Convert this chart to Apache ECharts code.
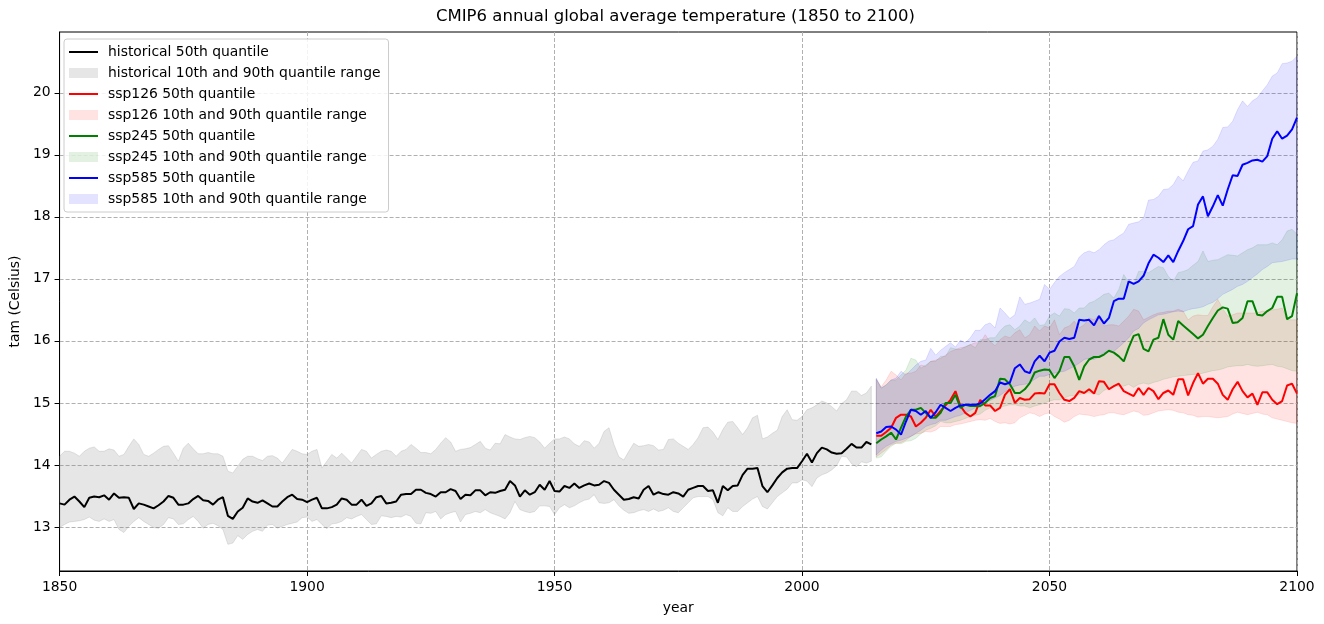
<!DOCTYPE html>
<html><head><meta charset="utf-8">
<script src="https://cdn.jsdelivr.net/npm/echarts@6/dist/echarts.min.js"></script>
<style>html,body{margin:0;padding:0;background:#fff}#chart{width:1324px;height:624px}</style>
</head><body><div id="chart"></div>
<script>
const histStart = 1850;
const futStart = 2015;
const xTicks = [1850, 1900, 1950, 2000, 2050, 2100];
const yTicks = [13, 14, 15, 16, 17, 18, 19, 20];

const histMedian = [
13.38,13.36,13.44,13.49,13.41,13.32,13.47,13.49,13.48,13.51,
13.44,13.54,13.47,13.48,13.47,13.29,13.38,13.36,13.33,13.30,
13.35,13.41,13.50,13.47,13.36,13.36,13.38,13.45,13.50,13.43,
13.42,13.36,13.44,13.48,13.18,13.13,13.25,13.31,13.46,13.41,
13.39,13.43,13.38,13.33,13.33,13.41,13.48,13.52,13.45,13.44,
13.40,13.44,13.47,13.30,13.30,13.32,13.36,13.46,13.44,13.36,
13.36,13.44,13.34,13.38,13.48,13.50,13.38,13.39,13.41,13.52,
13.53,13.53,13.60,13.60,13.55,13.53,13.49,13.56,13.56,13.61,
13.58,13.45,13.52,13.51,13.59,13.59,13.51,13.56,13.55,13.58,
13.60,13.74,13.67,13.49,13.59,13.52,13.56,13.68,13.60,13.74,
13.58,13.57,13.66,13.63,13.70,13.63,13.67,13.70,13.67,13.68,
13.74,13.71,13.60,13.52,13.44,13.45,13.48,13.46,13.60,13.66,
13.52,13.56,13.53,13.52,13.56,13.54,13.49,13.60,13.63,13.66,
13.66,13.58,13.59,13.39,13.66,13.59,13.66,13.67,13.84,13.94,
13.94,13.95,13.66,13.56,13.67,13.79,13.88,13.94,13.95,13.95,
14.06,14.18,14.04,14.19,14.28,14.25,14.20,14.18,14.19,14.26,
14.34,14.28,14.28,14.37,14.33];

const histUpper = [
14.14,14.22,14.22,14.19,14.14,14.22,14.27,14.29,14.22,14.22,
14.26,14.24,14.14,14.17,14.30,14.42,14.33,14.17,14.14,14.19,
14.25,14.30,14.31,14.19,14.06,14.27,14.35,14.26,14.18,14.18,
14.20,14.18,14.18,14.14,13.90,13.87,13.98,14.09,14.14,14.14,
14.10,14.07,14.14,14.15,14.11,14.03,14.14,14.25,14.22,14.18,
14.17,14.22,14.25,13.95,14.06,14.17,14.11,14.19,14.11,14.03,
14.14,14.25,14.22,14.11,14.17,14.22,14.24,14.22,14.14,14.22,
14.25,14.33,14.27,14.20,14.20,14.18,14.25,14.35,14.44,14.37,
14.22,14.25,14.26,14.28,14.33,14.38,14.27,14.24,14.35,14.34,
14.49,14.45,14.42,14.41,14.44,14.46,14.44,14.37,14.27,14.35,
14.42,14.42,14.45,14.42,14.34,14.30,14.39,14.37,14.27,14.35,
14.54,14.60,14.33,14.13,14.08,14.22,14.35,14.30,14.31,14.33,
14.31,14.24,14.25,14.41,14.42,14.35,14.30,14.25,14.33,14.44,
14.60,14.61,14.53,14.41,14.57,14.69,14.70,14.60,14.49,14.60,
14.76,14.80,14.42,14.45,14.51,14.56,14.78,14.89,14.73,14.72,
14.78,14.89,14.92,14.97,15.03,15.00,14.94,14.87,14.99,15.05,
15.19,15.19,15.12,15.16,15.27];

const histLower = [
12.99,13.04,13.08,13.09,13.10,13.12,13.16,13.11,13.09,13.13,
13.09,13.12,12.96,12.91,13.01,13.09,13.15,13.09,13.04,12.99,
12.98,13.04,13.15,13.13,13.04,13.05,13.12,13.17,13.09,12.98,
13.04,13.06,13.02,12.96,12.72,12.74,12.86,12.80,12.88,12.93,
12.96,12.93,13.03,13.04,12.98,13.01,13.04,13.06,13.08,13.15,
13.16,13.09,13.12,13.04,12.97,13.05,13.06,13.09,13.15,13.13,
13.17,13.20,13.12,13.04,13.05,13.18,13.17,13.15,13.17,13.16,
13.20,13.17,13.06,13.05,13.23,13.22,13.25,13.13,13.20,13.23,
13.25,13.08,13.20,13.22,13.25,13.23,13.28,13.23,13.20,13.17,
13.13,13.23,13.41,13.28,13.25,13.23,13.25,13.34,13.34,13.33,
13.20,13.31,13.36,13.31,13.34,13.39,13.43,13.45,13.52,13.39,
13.38,13.39,13.44,13.34,13.27,13.22,13.23,13.26,13.28,13.25,
13.29,13.25,13.27,13.31,13.25,13.23,13.31,13.39,13.47,13.49,
13.49,13.49,13.44,13.23,13.18,13.31,13.25,13.25,13.33,13.39,
13.45,13.49,13.33,13.29,13.39,13.49,13.55,13.61,13.71,13.71,
13.76,13.74,13.65,13.79,13.84,13.87,13.92,13.99,14.14,14.13,
14.02,13.97,14.05,14.03,14.06];

const ssp126Median = [
14.47,14.47,14.53,14.60,14.76,14.81,14.81,14.78,14.62,14.68,
14.76,14.89,14.78,14.87,14.96,15.05,15.19,14.95,14.84,14.78,
14.84,15.05,14.96,14.96,14.87,14.92,15.13,15.22,15.00,15.08,
15.05,15.06,15.15,15.16,15.15,15.30,15.30,15.16,15.05,15.03,
15.08,15.19,15.16,15.22,15.15,15.35,15.34,15.22,15.27,15.31,
15.19,15.15,15.11,15.24,15.13,15.24,15.19,15.06,15.16,15.20,
15.13,15.38,15.38,15.12,15.32,15.48,15.31,15.39,15.39,15.31,
15.13,15.05,15.22,15.34,15.19,15.09,15.15,14.97,15.17,15.17,
15.05,14.98,15.03,15.28,15.31,15.15];
const ssp126Upper = [
15.38,15.26,15.37,15.51,15.45,15.37,15.48,15.48,15.51,15.61,
15.59,15.67,15.69,15.72,15.77,15.83,15.86,15.89,15.90,15.94,
15.97,15.97,16.10,15.99,15.92,16.02,16.08,16.05,16.13,16.18,
16.05,16.10,16.24,16.16,16.24,16.21,16.34,16.10,16.21,16.24,
16.32,16.21,16.26,16.37,16.34,16.42,16.24,16.26,16.26,16.24,
16.32,16.40,16.51,16.48,16.34,16.38,16.42,16.45,16.46,16.48,
16.48,16.51,16.48,16.34,16.40,16.42,16.41,16.41,16.55,16.67,
16.52,16.40,16.42,16.45,16.45,16.45,16.45,16.45,16.48,16.48,
16.50,16.51,16.53,16.34,16.34,16.34];
const ssp126Lower = [
14.13,14.19,14.25,14.32,14.35,14.36,14.40,14.46,14.50,14.51,
14.54,14.53,14.56,14.62,14.62,14.62,14.65,14.66,14.68,14.70,
14.72,14.73,14.72,14.75,14.70,14.67,14.68,14.66,14.68,14.76,
14.80,14.84,14.82,14.78,14.82,14.84,14.78,14.74,14.69,14.72,
14.78,14.82,14.81,14.80,14.78,14.80,14.81,14.84,14.84,14.82,
14.81,14.84,14.87,14.85,14.80,14.81,14.84,14.87,14.88,14.89,
14.88,14.85,14.84,14.81,14.80,14.77,14.78,14.78,14.77,14.76,
14.77,14.78,14.82,14.85,14.83,14.81,14.83,14.85,14.82,14.81,
14.76,14.74,14.72,14.70,14.68,14.67];

const ssp245Median = [
14.35,14.41,14.46,14.52,14.41,14.60,14.78,14.89,14.89,14.92,
14.84,14.76,14.76,14.84,15.00,15.00,15.13,14.92,14.97,14.95,
14.95,14.95,15.00,15.08,15.11,15.39,15.38,15.30,15.16,15.16,
15.22,15.32,15.49,15.52,15.54,15.53,15.40,15.51,15.74,15.74,
15.59,15.37,15.59,15.70,15.74,15.74,15.78,15.84,15.81,15.75,
15.67,15.89,16.08,16.11,15.87,15.83,16.02,16.05,16.35,16.10,
16.02,16.32,16.25,16.18,16.11,16.04,16.10,16.24,16.37,16.49,
16.54,16.52,16.29,16.30,16.37,16.64,16.64,16.42,16.41,16.48,
16.53,16.71,16.71,16.35,16.40,16.77];
const ssp245Upper = [
15.38,15.24,15.29,15.37,15.37,15.45,15.53,15.72,15.69,15.56,
15.61,15.67,15.67,15.75,15.75,15.89,15.87,15.86,15.91,15.94,
15.89,16.02,16.02,16.05,16.05,16.16,16.24,16.26,16.18,16.24,
16.34,16.29,16.37,16.25,16.26,16.40,16.45,16.40,16.52,16.51,
16.45,16.53,16.53,16.61,16.64,16.69,16.75,16.77,16.69,16.83,
17.07,16.94,16.91,17.12,17.12,17.10,17.15,17.20,17.18,17.04,
16.96,17.10,17.12,17.15,17.22,17.28,17.45,17.28,17.30,17.31,
17.35,17.39,17.38,17.37,17.42,17.47,17.50,17.55,17.55,17.55,
17.58,17.55,17.63,17.77,17.80,17.72];
const ssp245Lower = [
14.11,14.13,14.22,14.30,14.35,14.34,14.38,14.39,14.43,14.50,
14.56,14.59,14.63,14.70,14.68,14.68,14.70,14.72,14.75,14.78,
14.80,14.82,14.88,14.92,14.90,14.93,14.95,14.97,14.97,14.95,
14.95,14.92,14.95,14.97,15.00,15.03,15.05,15.05,15.08,15.11,
15.12,15.13,15.16,15.16,15.15,15.13,15.20,15.24,15.27,15.27,
15.27,15.30,15.25,15.30,15.32,15.30,15.33,15.35,15.38,15.40,
15.42,15.43,15.44,15.45,15.46,15.46,15.48,15.50,15.52,15.53,
15.55,15.58,15.59,15.60,15.60,15.62,15.60,15.59,15.60,15.61,
15.62,15.59,15.58,15.55,15.52,15.51];

const ssp585Median = [
14.51,14.54,14.61,14.62,14.57,14.49,14.70,14.89,14.87,14.81,
14.87,14.76,14.85,14.97,14.92,14.87,14.92,14.96,14.97,14.97,
14.97,14.99,15.06,15.13,15.19,15.33,15.30,15.33,15.56,15.62,
15.51,15.48,15.67,15.76,15.67,15.81,15.84,15.99,16.05,16.03,
16.05,16.34,16.33,16.34,16.25,16.40,16.28,16.37,16.64,16.68,
16.68,16.96,16.92,16.96,17.05,17.25,17.39,17.34,17.27,17.38,
17.27,17.45,17.61,17.80,17.85,18.20,18.33,18.01,18.17,18.35,
18.18,18.44,18.67,18.66,18.84,18.87,18.91,18.92,18.89,18.98,
19.26,19.38,19.26,19.31,19.41,19.60];
const ssp585Upper = [
15.40,15.24,15.29,15.37,15.40,15.51,15.45,15.53,15.61,15.67,
15.69,15.88,15.77,15.85,15.91,15.97,15.90,16.01,15.97,16.05,
16.17,16.17,16.26,16.29,16.21,16.53,16.45,16.36,16.42,16.71,
16.59,16.61,16.64,16.67,16.91,16.83,16.94,17.04,17.10,17.15,
17.20,17.35,17.42,17.45,17.42,17.47,17.55,17.61,17.63,17.69,
17.74,17.88,17.90,17.92,17.98,18.27,18.28,18.33,18.44,18.45,
18.52,18.66,18.58,18.74,18.88,18.90,19.06,19.08,19.14,19.25,
19.44,19.45,19.54,19.73,19.87,19.78,19.87,19.92,20.03,20.13,
20.27,20.32,20.47,20.48,20.51,20.59];
const ssp585Lower = [
14.16,14.24,14.30,14.34,14.38,14.40,14.43,14.46,14.51,14.56,
14.62,14.65,14.67,14.72,14.72,14.75,14.78,14.80,14.84,14.88,
14.92,14.93,15.00,15.04,15.08,15.12,15.18,15.22,15.27,15.29,
15.30,15.32,15.38,15.43,15.43,15.46,15.48,15.50,15.51,15.55,
15.59,15.64,15.70,15.72,15.70,15.74,15.81,15.83,15.83,15.90,
15.97,16.05,16.16,16.20,16.29,16.34,16.38,16.42,16.43,16.45,
16.47,16.48,16.47,16.50,16.52,16.53,16.55,16.59,16.62,16.68,
16.75,16.79,16.83,16.88,16.91,16.96,17.02,17.08,17.15,17.20,
17.26,17.27,17.28,17.30,17.32,17.32];

const FONT = 'DejaVu Sans';
function pairs(start, arr) { return arr.map((v, i) => [start + i, v]); }

function medianSeries(name, start, arr, color) {
  return { name, type: 'line', data: pairs(start, arr), symbol: 'none', silent: true,
    lineStyle: { color, width: 2 }, itemStyle: { color } };
}
// Filled range between the lower and upper quantile, drawn as one polygon
// whose vertices come from the axis scales (api.coord).
function bandSeries(name, start, lo, hi, fill) {
  return {
    name, type: 'custom', silent: true, clip: true,
    data: lo.map((v, i) => [start + i, v, hi[i]]),
    encode: { x: 0, y: [1, 2] },
    itemStyle: { color: fill },
    renderItem: function (params, api) {
      if (params.dataIndex !== 0) return null;
      const pts = [];
      for (let i = 0; i < hi.length; i++) pts.push(api.coord([start + i, hi[i]]));
      for (let i = lo.length - 1; i >= 0; i--) pts.push(api.coord([start + i, lo[i]]));
      return { type: 'polygon', shape: { points: pts },
        style: { fill: fill, stroke: fill, lineWidth: 1 } };
    }
  };
}

const fills = {
  hist: 'rgba(128,128,128,0.2)', ssp126: 'rgba(255,0,0,0.11)', ssp245: 'rgba(0,128,0,0.11)', ssp585: 'rgba(0,0,255,0.11)'
};
const lineIcon = 'path://M0,0h29v2h-29z';

const series = [
  medianSeries('historical 50th quantile', histStart, histMedian, '#000000'),
  bandSeries('historical 10th and 90th quantile range', histStart, histLower, histUpper, fills.hist),
  medianSeries('ssp126 50th quantile', futStart, ssp126Median, '#ff0000'),
  bandSeries('ssp126 10th and 90th quantile range', futStart, ssp126Lower, ssp126Upper, fills.ssp126),
  medianSeries('ssp245 50th quantile', futStart, ssp245Median, '#008000'),
  bandSeries('ssp245 10th and 90th quantile range', futStart, ssp245Lower, ssp245Upper, fills.ssp245),
  medianSeries('ssp585 50th quantile', futStart, ssp585Median, '#0000ff'),
  bandSeries('ssp585 10th and 90th quantile range', futStart, ssp585Lower, ssp585Upper, fills.ssp585)
];

const legendData = [
  { name: 'historical 50th quantile', icon: lineIcon, itemStyle: { color: '#000000' } },
  { name: 'historical 10th and 90th quantile range', icon: 'rect', itemStyle: { color: fills.hist, borderWidth: 0 } },
  { name: 'ssp126 50th quantile', icon: lineIcon, itemStyle: { color: '#ff0000' } },
  { name: 'ssp126 10th and 90th quantile range', icon: 'rect', itemStyle: { color: fills.ssp126, borderWidth: 0 } },
  { name: 'ssp245 50th quantile', icon: lineIcon, itemStyle: { color: '#008000' } },
  { name: 'ssp245 10th and 90th quantile range', icon: 'rect', itemStyle: { color: fills.ssp245, borderWidth: 0 } },
  { name: 'ssp585 50th quantile', icon: lineIcon, itemStyle: { color: '#0000ff' } },
  { name: 'ssp585 10th and 90th quantile range', icon: 'rect', itemStyle: { color: fills.ssp585, borderWidth: 0 } }
];

const gridLine = { show: true, lineStyle: { color: '#b0b0b0', width: 1, type: [4, 2] } };

const option = {
  animation: false,
  backgroundColor: '#ffffff',
  title: {
    text: 'CMIP6 annual global average temperature (1850 to 2100)',
    left: 436, top: 8, padding: 0,
    textStyle: { fontFamily: FONT, fontSize: 16.5, fontWeight: 'normal', color: '#000' }
  },
  grid: { left: 57, right: 27, top: 32, bottom: 53, show: true, borderColor: '#000', borderWidth: 1, backgroundColor: 'transparent' },
  legend: {
    orient: 'vertical', left: 64, top: 39, padding: [6, 8, 6, 5], itemGap: 7, itemWidth: 29, itemHeight: 10,
    backgroundColor: 'rgba(255,255,255,0.85)', borderColor: '#cccccc', borderWidth: 1, borderRadius: 3,
    textStyle: { fontFamily: FONT, fontSize: 13.9, color: '#000', lineHeight: 14, padding: [0, 0, 0, 5] },
    selectedMode: false,
    data: legendData
  },
  xAxis: {
    type: 'value', min: 1850, max: 2100, interval: 50,
    name: 'year', nameLocation: 'middle', nameGap: 30,
    nameTextStyle: { fontFamily: FONT, fontSize: 13.9, color: '#000' },
    axisLine: { show: true, lineStyle: { color: '#000', width: 1 } },
    axisTick: { show: true, length: 5, lineStyle: { color: '#000' }, customValues: xTicks },
    axisLabel: { fontFamily: FONT, fontSize: 13.9, color: '#000', margin: 9, customValues: xTicks, formatter: v => String(v) },
    splitLine: gridLine
  },
  yAxis: {
    type: 'value', min: 12.29, max: 20.98, splitNumber: 9,
    name: 'tam (Celsius)', nameLocation: 'middle', nameGap: 34, nameRotate: 90,
    nameTextStyle: { fontFamily: FONT, fontSize: 13.9, color: '#000' },
    axisLine: { show: true, lineStyle: { color: '#000', width: 1 } },
    axisTick: { show: true, length: 5, lineStyle: { color: '#000' }, customValues: yTicks },
    axisLabel: { fontFamily: FONT, fontSize: 13.9, color: '#000', margin: 9, customValues: yTicks },
    splitLine: gridLine
  },
  series
};

const chart = echarts.init(document.getElementById('chart'), null, { renderer: 'canvas' });
chart.setOption(option);
</script>
</body></html>
